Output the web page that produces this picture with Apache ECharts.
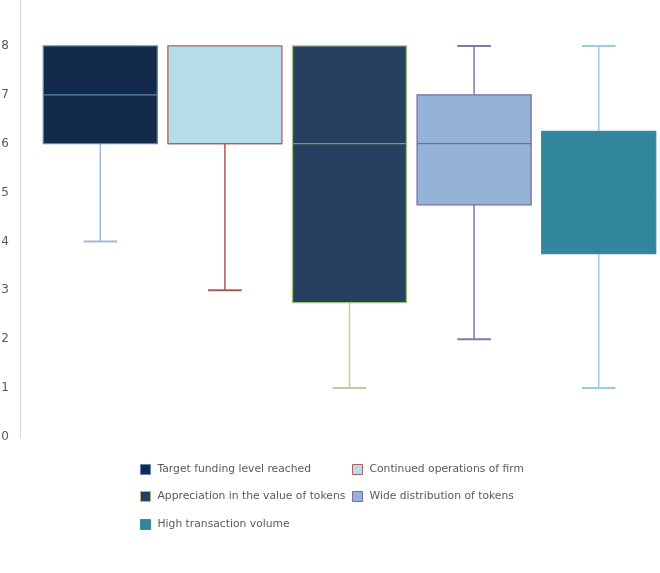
<!DOCTYPE html>
<html>
<head>
<meta charset="utf-8">
<script src="https://cdn.jsdelivr.net/npm/echarts@6/dist/echarts.min.js"></script>
<style>
  html, body { margin: 0; padding: 0; background: #fff; }
  #chart { width: 660px; height: 573px; }
</style>
</head>
<body>
<div id="chart"></div>
<script>
// data
var categories = ['Target funding level reached', 'Continued operations of firm',
  'Appreciation in the value of tokens', 'Wide distribution of tokens', 'High transaction volume'];
var mins    = [4, 3, 1,    2,    1];
var q1s     = [6, 6, 2.75, 4.75, 3.75];
var medians = [7, 6, 6,    6,    5];
var q3s     = [8, 8, 8,    7,    6.25];
var maxs    = [8, 8, 8,    8,    8];
var yTicks  = [0, 1, 2, 3, 4, 5, 6, 7, 8, 9];

// colours per box: fill, border, median, whisker
var fills    = ['#132a4a', '#b7dee8', '#254061', '#95b3d7', '#31859c'];
var borders  = ['#5f86b5', '#b0605d', '#a3c07a', '#7c6ca5', '#3a8ba1'];
var medCols  = ['#5a86b5', '#b0605d', '#77a062', '#7a6aa0', '#31859c'];
var whiskers = ['#a3bad3', '#a85a57', '#c4c99c', '#8576aa', '#9ccddc'];

var font = 'DejaVu Sans';

function boxItem(params, api) {
  var i = api.value(0);
  var band = api.size([1, 0])[0];
  var bw = band * 0.915;
  var cap = band * 0.27;
  var pMin = api.coord([i, api.value(1)]);
  var pQ1 = api.coord([i, api.value(2)]);
  var pMed = api.coord([i, api.value(3)]);
  var pQ3 = api.coord([i, api.value(4)]);
  var pMax = api.coord([i, api.value(5)]);
  var cx = pMin[0];
  var k = params.seriesIndex;
  var wl = { stroke: whiskers[k], lineWidth: 1.5 };
  var kids = [];
  // whiskers only where they stick out of the box
  if (api.value(1) < api.value(2)) {
    kids.push({ type: 'line', shape: { x1: cx, y1: pQ1[1], x2: cx, y2: pMin[1] }, style: wl });
    kids.push({ type: 'line', shape: { x1: cx - cap / 2, y1: pMin[1], x2: cx + cap / 2, y2: pMin[1] }, style: { stroke: whiskers[k], lineWidth: 2 } });
  }
  if (api.value(5) > api.value(4)) {
    kids.push({ type: 'line', shape: { x1: cx, y1: pQ3[1], x2: cx, y2: pMax[1] }, style: wl });
    kids.push({ type: 'line', shape: { x1: cx - cap / 2, y1: pMax[1], x2: cx + cap / 2, y2: pMax[1] }, style: { stroke: whiskers[k], lineWidth: 2 } });
  }
  kids.push({ type: 'rect', shape: { x: cx - bw / 2, y: pQ3[1], width: bw, height: pQ1[1] - pQ3[1] },
    style: { fill: fills[k], stroke: borders[k], lineWidth: 1.3 } });
  kids.push({ type: 'line', shape: { x1: cx - bw / 2, y1: pMed[1], x2: cx + bw / 2, y2: pMed[1] },
    style: { stroke: medCols[k], lineWidth: 1.3 } });
  return { type: 'group', children: kids };
}

var series = categories.map(function (name, i) {
  return {
    name: name,
    type: 'custom',
    renderItem: boxItem,
    itemStyle: { color: fills[i], borderColor: borders[i] },
    encode: { x: 0, y: [1, 2, 3, 4, 5] },
    data: [[i, mins[i], q1s[i], medians[i], q3s[i], maxs[i]]]
  };
});

// legend positions: two columns
var legPos = [[140, 464], [352, 464], [140, 491], [352, 491], [140, 519]];
var legends = categories.map(function (name, i) {
  return {
    left: legPos[i][0],
    top: legPos[i][1],
    padding: 0,
    itemWidth: 10,
    itemHeight: 10,
    icon: 'rect',
    data: [{ name: name, itemStyle: { color: fills[i], borderColor: borders[i], borderWidth: 1 } }],
    textStyle: { fontFamily: font, fontSize: 10.75, color: '#595959', padding: [0, 0, 0, 2] }
  };
});

var option = {
  animation: false,
  legend: legends,
  // top tick (9) sits just off the page in the source
  grid: { left: 38, right: -1, top: -3, height: 440, outerBoundsMode: 'none' },
  xAxis: {
    type: 'category',
    data: categories,
    axisLine: { show: false },
    axisTick: { show: false },
    axisLabel: { show: false }
  },
  yAxis: {
    type: 'value',
    min: yTicks[0],
    max: yTicks[yTicks.length - 1],
    interval: 1,
    offset: 18,
    axisLine: { show: true, lineStyle: { color: '#d9d9d9', width: 1 } },
    axisTick: { show: false },
    splitLine: { show: false },
    axisLabel: { margin: 11, color: '#595959', fontFamily: font, fontSize: 12, showMaxLabel: true, showMinLabel: true }
  },
  series: series
};

var myChart = echarts.init(document.getElementById('chart'));
myChart.setOption(option);
</script>
</body>
</html>
